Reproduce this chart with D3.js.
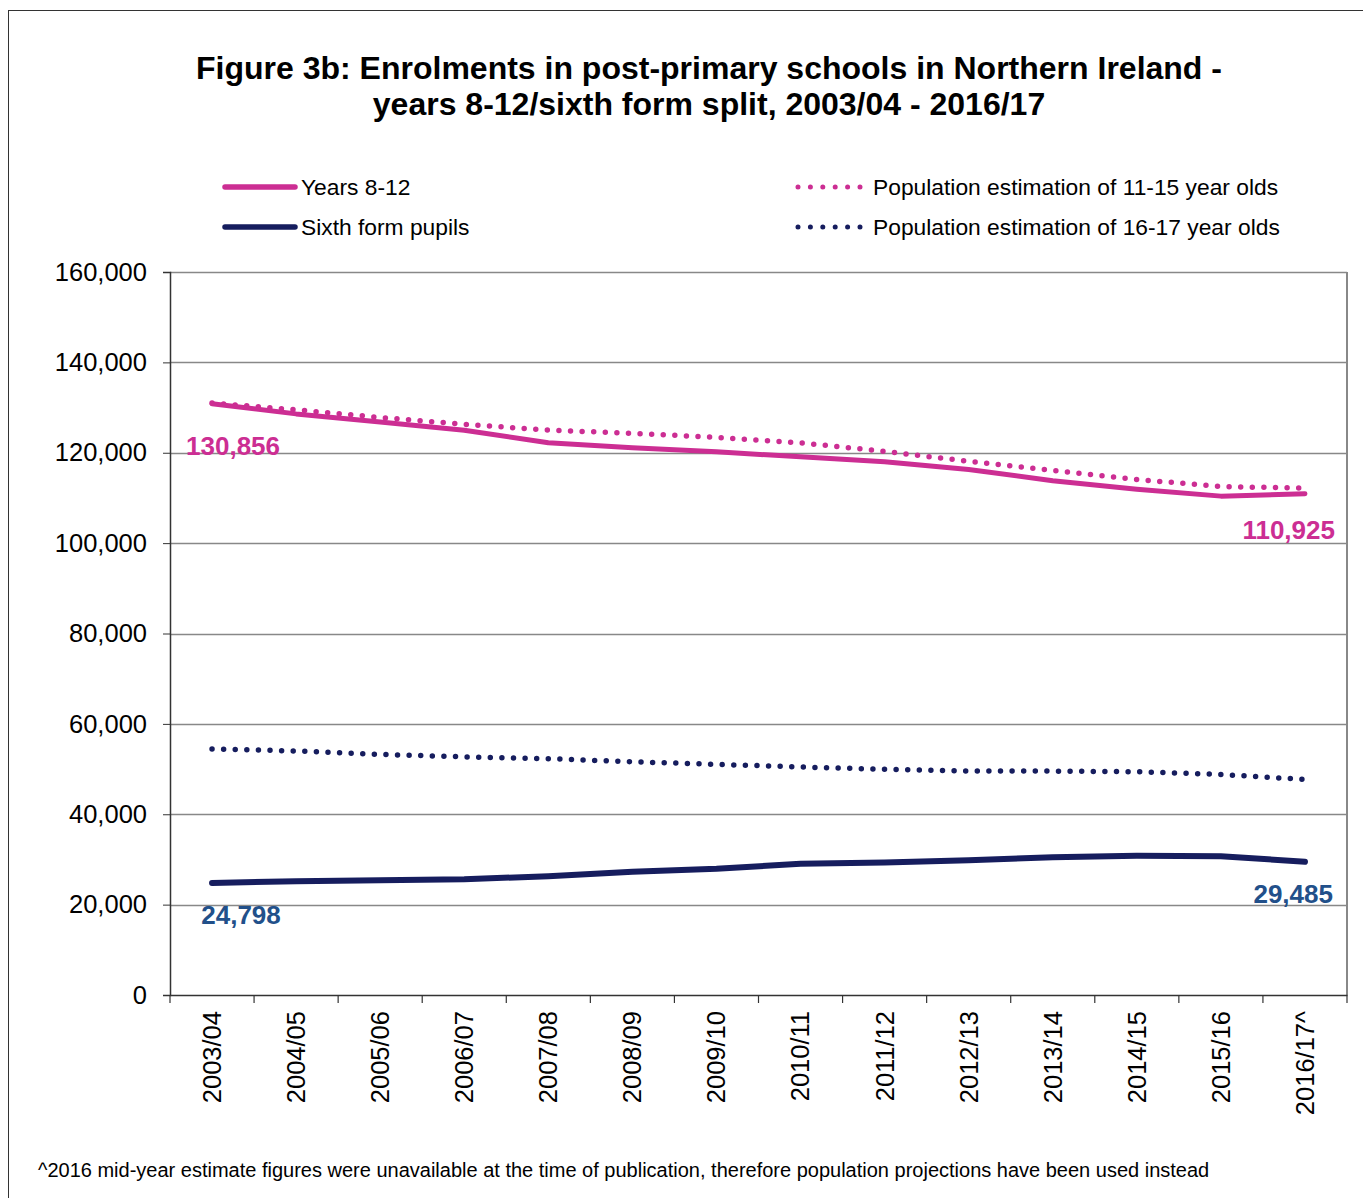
<!DOCTYPE html>
<html>
<head>
<meta charset="utf-8">
<script src="https://cdn.jsdelivr.net/npm/d3@7"></script>
<style>
  body { margin: 0; background: #fff; }
  svg { font-family: "Liberation Sans", Arial, sans-serif; }
</style>
</head>
<body>
<div id="chart"></div>
<script>
// chart values
var years = ["2003/04", "2004/05", "2005/06", "2006/07", "2007/08", "2008/09", "2009/10",
             "2010/11", "2011/12", "2012/13", "2013/14", "2014/15", "2015/16", "2016/17^"];
var years812 = [130856, 128600, 126800, 125000, 122200, 121100, 120200,
                119100, 118000, 116300, 113800, 111900, 110400, 110925];
var pop1115 = [131000, 129500, 127800, 126300, 125000, 124300, 123400,
               122200, 120300, 118100, 116100, 114100, 112500, 112200];
var sixthForm = [24798, 25200, 25400, 25600, 26300, 27300, 27950,
                 29050, 29300, 29800, 30500, 30800, 30700, 29485];
var pop1617 = [54450, 54000, 53250, 52700, 52300, 51600, 51050,
               50450, 49950, 49550, 49550, 49400, 48800, 47700];
var yTicks = [0, 20000, 40000, 60000, 80000, 100000, 120000, 140000, 160000];

var pink = "#cc2e93", navy = "#161d5e", navyLabel = "#22508a";

var width = 1363, height = 1198;
var margin = {top: 272, right: 16, bottom: 203, left: 170};
var innerW = width - margin.left - margin.right,
    innerH = height - margin.top - margin.bottom;

var svg = d3.select("#chart").append("svg")
    .attr("width", width).attr("height", height);

// outer frame
svg.append("rect").attr("x", 8.5).attr("y", 10.5)
  .attr("width", width + 10).attr("height", height + 10)
  .style("fill", "none").style("stroke", "#333").style("stroke-width", 1);

// title
var title = svg.append("text").attr("x", 709).attr("y", 79)
  .style("text-anchor", "middle").style("font-size", "32px").style("font-weight", "bold");
title.append("tspan").attr("x", 709).text("Figure 3b: Enrolments in post-primary schools in Northern Ireland -");
title.append("tspan").attr("x", 709).attr("dy", 36).text("years 8-12/sixth form split, 2003/04 - 2016/17");

var x = d3.scaleBand().domain(years).range([0, innerW]);
var y = d3.scaleLinear().domain([0, 160000]).range([innerH, 0]);

var g = svg.append("g").attr("transform", "translate(" + margin.left + "," + margin.top + ")");

// gridlines
g.selectAll(".grid").data(yTicks.slice(1)).enter().append("line")
  .attr("x1", 0).attr("x2", innerW)
  .attr("y1", function(d) { return Math.round(y(d)) + 0.5; })
  .attr("y2", function(d) { return Math.round(y(d)) + 0.5; })
  .style("stroke", "#888").style("stroke-width", 1.5);

// right border of plot area
g.append("line").attr("x1", innerW).attr("x2", innerW).attr("y1", 0).attr("y2", innerH)
  .style("stroke", "#888").style("stroke-width", 2);

// y axis
var yAxis = g.append("g")
  .call(d3.axisLeft(y).tickValues(yTicks).tickSize(7).tickPadding(16)
    .tickFormat(d3.format(",")));
yAxis.select(".domain").style("stroke", "#333").style("stroke-width", 1.5);
yAxis.selectAll(".tick line").style("stroke", "#333");
yAxis.selectAll("text").style("font-size", "25.5px").style("fill", "#000")
  .attr("font-family", null);

// x axis
var xAxis = g.append("g").attr("transform", "translate(0," + innerH + ")")
  .call(d3.axisBottom(x).tickSize(0).tickSizeOuter(0));
xAxis.select(".domain").style("stroke", "#333").style("stroke-width", 1.5);
xAxis.selectAll(".tick line").remove();
xAxis.selectAll(".tick text")
  .attr("transform", "rotate(-90)")
  .attr("x", -16).attr("y", 0).attr("dy", "0.35em")
  .style("text-anchor", "end").style("font-size", "25.5px").style("fill", "#000")
  .attr("font-family", null);
// tick marks on band edges
var edges = years.map(function(d) { return x(d); }).concat([innerW]);
xAxis.selectAll(".edge").data(edges).enter().append("line")
  .attr("x1", function(d) { return d; }).attr("x2", function(d) { return d; })
  .attr("y1", 0).attr("y2", 8)
  .style("stroke", "#333").style("stroke-width", 1.2);

var cx = function(d, i) { return x(years[i]) + x.bandwidth() / 2; };

function drawLine(values, color, width, dotted) {
  var line = d3.line().x(cx).y(function(d) { return y(d); });
  var p = g.append("path").datum(values)
    .attr("d", line)
    .style("fill", "none").style("stroke", color)
    .style("stroke-width", width)
    .style("stroke-linecap", "round").style("stroke-linejoin", "round");
  if (dotted) p.style("stroke-dasharray", "0 11.6");
}

drawLine(pop1115, pink, 5.5, true);
drawLine(years812, pink, 5, false);
drawLine(pop1617, navy, 5.5, true);
drawLine(sixthForm, navy, 6, false);

// end value labels
var fmt = d3.format(",");
function label(value, i, dx, dy, color, anchor) {
  g.append("text")
    .attr("x", cx(null, i) + dx).attr("y", y(value) + dy)
    .style("text-anchor", anchor).style("font-size", "26px").style("font-weight", "bold")
    .style("fill", color).text(fmt(value));
}
var last = years.length - 1;
label(years812[0], 0, 21, 51, pink, "middle");
label(sixthForm[0], 0, 29, 41, navyLabel, "middle");
label(years812[last], last, 30, 45, pink, "end");
label(sixthForm[last], last, 28, 41, navyLabel, "end");

// legend
var legend = [
  {name: "Years 8-12", color: pink, dotted: false, x: 225, y: 187},
  {name: "Sixth form pupils", color: navy, dotted: false, x: 225, y: 227},
  {name: "Population estimation of 11-15 year olds", color: pink, dotted: true, x: 798, y: 187},
  {name: "Population estimation of 16-17 year olds", color: navy, dotted: true, x: 798, y: 227}
];
var lg = svg.selectAll(".legend").data(legend).enter().append("g");
lg.append("line")
  .attr("x1", function(d) { return d.x; })
  .attr("x2", function(d) { return d.dotted ? d.x + 62 : d.x + 70; })
  .attr("y1", function(d) { return d.y; }).attr("y2", function(d) { return d.y; })
  .style("stroke", function(d) { return d.color; })
  .style("stroke-width", function(d) { return d.dotted ? 5 : 5.5; })
  .style("stroke-linecap", "round")
  .style("stroke-dasharray", function(d) { return d.dotted ? "0 12.4" : null; });
lg.append("text")
  .attr("x", function(d) { return d.dotted ? d.x + 75 : d.x + 76; })
  .attr("y", function(d) { return d.y; }).attr("dy", "0.35em")
  .style("font-size", "22.8px").style("fill", "#000")
  .text(function(d) { return d.name; });

// footnote
svg.append("text").attr("x", 38).attr("y", 1177)
  .style("font-size", "20px").style("fill", "#000")
  .text("^2016 mid-year estimate figures were unavailable at the time of publication, therefore population projections have been used instead");
</script>
</body>
</html>
